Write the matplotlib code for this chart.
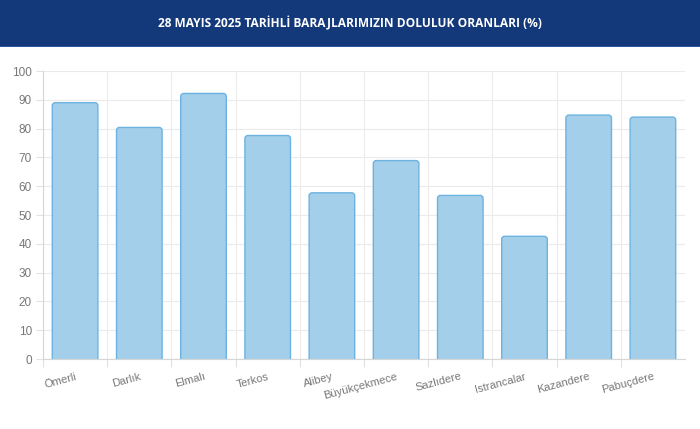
import numpy as np
import matplotlib.pyplot as plt
from matplotlib.patches import Rectangle, FancyBboxPatch

title = "28 MAYIS 2025 TARİHLİ BARAJLARIMIZIN DOLULUK ORANLARI (%)"
dams = ["Ömerli", "Darlık", "Elmalı", "Terkos", "Alibey",
        "Büyükçekmece", "Sazlıdere", "Istrancalar", "Kazandere", "Pabuçdere"]
levels = [89.0, 80.4, 92.2, 77.6, 57.7, 68.9, 56.8, 42.6, 84.7, 84.0]
yticks = [0, 10, 20, 30, 40, 50, 60, 70, 80, 90, 100]

W, H = 700, 429
fig = plt.figure(figsize=(W / 100, H / 100), dpi=100)
fig.patch.set_facecolor("white")

# header band
fig.patches.append(Rectangle((0, 1 - 46 / H), 1, 46 / H, transform=fig.transFigure,
                             facecolor="#13397b", edgecolor="none"))
fig.patches.append(Rectangle((0, 1 - 47 / H), 1, 1.2 / H, transform=fig.transFigure,
                             facecolor="#2c56a0", edgecolor="none"))
fig.text(0.5, 1 - 23 / H, title, color="white", ha="center", va="center",
         fontsize=8.6, fontweight="bold", family=["Open Sans", "DejaVu Sans"])

left, right, top, bottom = 43, 685, 71, 359
ax = fig.add_axes([left / W, 1 - bottom / H, (right - left) / W, (bottom - top) / H])

x = np.arange(len(dams))
bars = ax.bar(x, levels, width=0.71, color="none", edgecolor="none")

# pixels per data unit, used to keep corner rounding circular
px_x = (right - left) / len(dams)
px_y = (bottom - top) / 100
aspect = px_x / px_y
for b in bars:
    r = 3.0 / px_x
    p = FancyBboxPatch((b.get_x(), -2), b.get_width(), b.get_height() + 2,
                       boxstyle=f"round,pad=0,rounding_size={r}",
                       mutation_aspect=aspect,
                       facecolor="#a3cfea", edgecolor="#6db3e0", linewidth=1.0,
                       zorder=3, clip_on=True)
    ax.add_patch(p)

ax.set_xlim(-0.5, len(dams) - 0.5)
ax.set_ylim(0, 100)
ax.set_yticks(yticks)
ax.set_xticks(x)
ax.set_xticks(np.arange(len(dams)) - 0.5, minor=True)
ax.set_xticklabels(dams, rotation=15, ha="right", rotation_mode="anchor",
                   fontsize=8, color="#777777", family=["Liberation Sans", "DejaVu Sans"])
for lab in ax.get_yticklabels():
    lab.set_family(["Liberation Sans", "DejaVu Sans"])
ax.tick_params(axis="y", length=5, width=0.8, color="#e2e2e2", labelsize=8.5,
               labelcolor="#777777", pad=3)
ax.tick_params(axis="x", which="major", length=0, pad=9)
ax.tick_params(axis="x", which="minor", length=6, width=0.8, color="#e2e2e2")

ax.grid(axis="y", color="#ebebeb", linewidth=0.8, zorder=0)
ax.grid(axis="x", which="minor", color="#ebebeb", linewidth=0.8, zorder=0)
ax.set_axisbelow(True)
for s in ["top", "right"]:
    ax.spines[s].set_visible(False)
ax.spines["left"].set_color("#d6d6d6")
ax.spines["bottom"].set_color("#d6d6d6")
ax.spines["left"].set_linewidth(0.8)
ax.spines["bottom"].set_linewidth(0.8)

fig.savefig("out.png", dpi=100)
